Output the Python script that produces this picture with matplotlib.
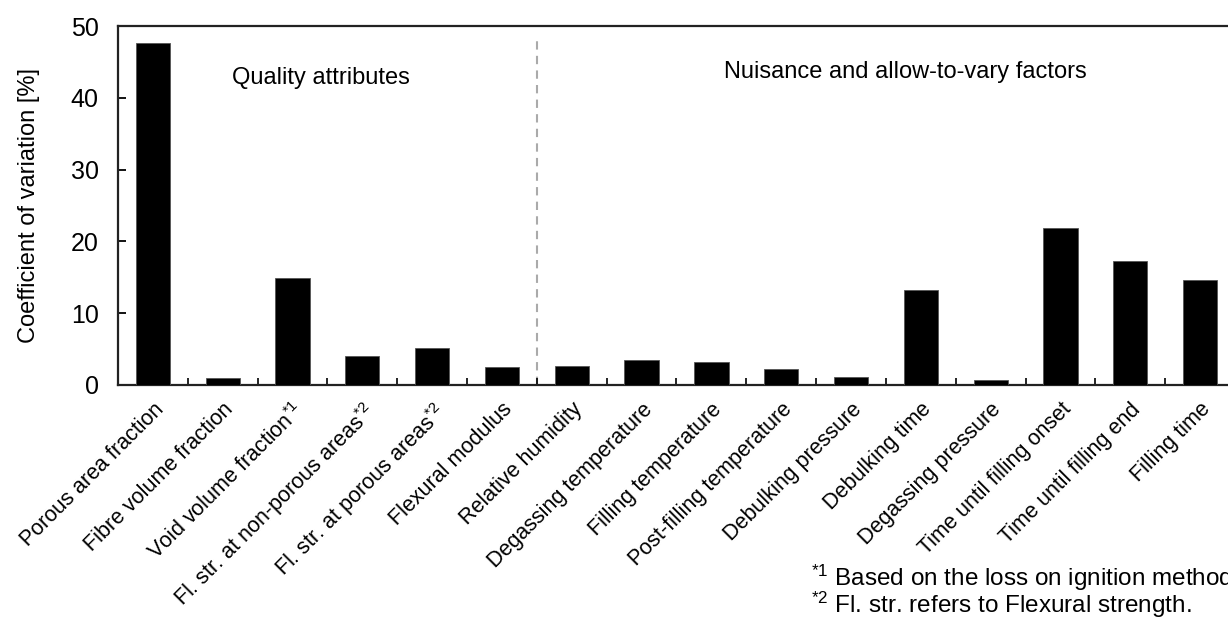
import matplotlib
matplotlib.use("Agg")
import matplotlib.pyplot as plt
import numpy as np

categories = [
    "Porous area fraction", "Fibre volume fraction", "Void volume fraction$^{*1}$",
    "Fl. str. at non-porous areas$^{*2}$", "Fl. str. at porous areas$^{*2}$",
    "Flexural modulus", "Relative humidity", "Degassing temperature",
    "Filling temperature", "Post-filling temperature", "Debulking pressure",
    "Debulking time", "Degassing pressure", "Time until filling onset",
    "Time until filling end", "Filling time",
]
values = [47.7, 1.0, 14.95, 4.1, 5.2, 2.5, 2.7, 3.5, 3.25, 2.2, 1.1, 13.2, 0.65, 21.9, 17.3, 14.6]
yticks = [0, 10, 20, 30, 40, 50]

plt.rcParams['font.family'] = ['Liberation Sans', 'DejaVu Sans']
plt.rcParams['mathtext.fontset'] = 'custom'
plt.rcParams['mathtext.rm'] = 'Liberation Sans'
plt.rcParams['mathtext.it'] = 'Liberation Sans'
plt.rcParams['mathtext.bf'] = 'Liberation Sans'

W, H = 1228, 619
fig = plt.figure(figsize=(W/100, H/100), dpi=100)
left, right, top, bottom = 118, 1235, 26, 385
ax = fig.add_axes([left/W, 1 - bottom/H, (right-left)/W, (bottom-top)/H])

x = np.arange(len(categories))
ax.bar(x, values, width=0.49, color='black', edgecolor='#555555', linewidth=0.6, zorder=3)
ax.set_xlim(-0.5, len(categories) - 0.5)
ax.set_ylim(0, 50)
ax.set_yticks(yticks)
ax.tick_params(axis='y', direction='in', length=6, width=1.3, labelsize=18, pad=14)
ax.set_xticks(x)
ax.set_xticklabels(categories, rotation=45, ha='right', rotation_mode='anchor', fontsize=15.5)
ax.tick_params(axis='x', length=0, pad=10)
ax.set_xticks(np.arange(len(categories)) - 0.5, minor=True)
ax.tick_params(axis='x', which='minor', direction='in', length=5, width=1.2)
for s in ['left', 'bottom', 'top']:
    ax.spines[s].set_linewidth(1.6)
    ax.spines[s].set_color('#222222')
ax.spines['right'].set_visible(False)

ax.set_ylabel("Coefficient of variation [%]", fontsize=17, labelpad=22)
ax.axvline(5.5, ymin=0, ymax=0.975, color='#aaaaaa', linestyle=(0, (4, 3)), linewidth=1.5, zorder=1)

ax.text(2.41, 42.8, "Quality attributes", ha='center', va='center', fontsize=17)
ax.text(10.78, 43.6, "Nuisance and allow-to-vary factors", ha='center', va='center', fontsize=17)

fig.text(811/W, 1 - 578/H, "$^{*1}$ Based on the loss on ignition method", ha='left', va='center', fontsize=17.5)
fig.text(811/W, 1 - 605/H, "$^{*2}$ Fl. str. refers to Flexural strength.", ha='left', va='center', fontsize=17.5)

fig.savefig("out.png", dpi=100)
